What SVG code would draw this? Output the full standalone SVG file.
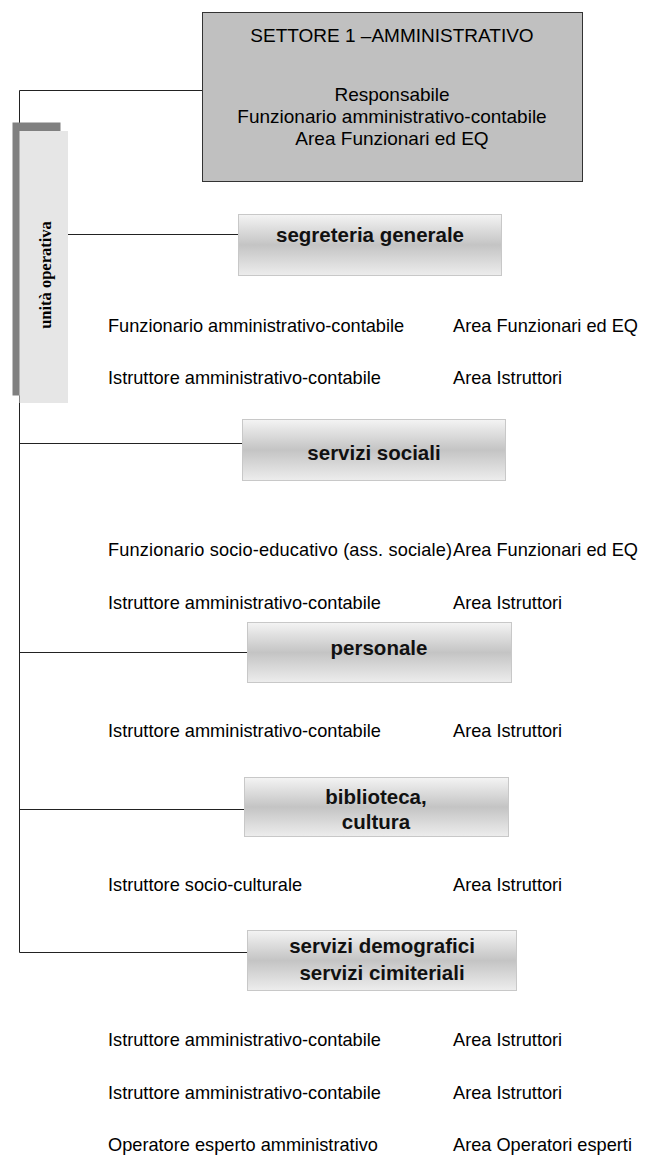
<svg xmlns="http://www.w3.org/2000/svg" width="645" height="1160" viewBox="0 0 645 1160">
<defs>
<linearGradient id="g" x1="0" y1="0" x2="0" y2="1">
<stop offset="0" stop-color="#f4f4f4"/>
<stop offset="0.5" stop-color="#c4c4c4"/>
<stop offset="1" stop-color="#ededed"/>
</linearGradient>
</defs>
<style>
text{font-family:"Liberation Sans",Arial,sans-serif;fill:#000}
.t{font-size:19px;text-anchor:middle}
.b{font-size:20.5px;font-weight:bold;text-anchor:middle;fill:#111}
.r{font-size:18.2px}
.box{fill:url(#g);stroke:#c8c8c8;stroke-width:1}
.ln{stroke:#222;stroke-width:1;fill:none}
</style>
<g id="connectors">
<polyline class="ln" points="202,90.5 19.5,90.5 19.5,952.5"/>
<line class="ln" x1="68" y1="234.5" x2="238" y2="234.5"/>
<line class="ln" x1="19.5" y1="443.5" x2="242" y2="443.5"/>
<line class="ln" x1="19.5" y1="652.5" x2="247" y2="652.5"/>
<line class="ln" x1="19.5" y1="809.5" x2="244" y2="809.5"/>
<line class="ln" x1="19.5" y1="952.5" x2="247" y2="952.5"/>
</g>
<g id="settore">
<rect x="202.5" y="12.5" width="380" height="169" fill="#c0c0c0" stroke="#333" stroke-width="1"/>
<text class="t" x="392" y="42">SETTORE 1 –AMMINISTRATIVO</text>
<text class="t" x="392" y="101">Responsabile</text>
<text class="t" x="392" y="123">Funzionario amministrativo-contabile</text>
<text class="t" x="392" y="145">Area Funzionari ed EQ</text>
</g>
<g id="unita-operativa">
<rect x="12.5" y="122.5" width="48" height="273" fill="#808080"/>
<rect x="19.5" y="131" width="48.5" height="272" fill="#e6e6e6"/>
<text transform="translate(51,275) rotate(-90)" text-anchor="middle" style="font-family:'Liberation Serif','Times New Roman',serif;font-weight:bold;font-size:16.5px">unità operativa</text>
</g>
<g id="segreteria">
<rect class="box" x="238.5" y="214.5" width="263" height="61"/>
<text class="b" x="370" y="242">segreteria generale</text>
<text class="r" x="108" y="332">Funzionario amministrativo-contabile</text>
<text class="r" x="453" y="332">Area Funzionari ed EQ</text>
<text class="r" x="108" y="384">Istruttore amministrativo-contabile</text>
<text class="r" x="453" y="384">Area Istruttori</text>
</g>
<g id="servizi-sociali">
<rect class="box" x="242.5" y="419.5" width="263" height="61"/>
<text class="b" x="374" y="460">servizi sociali</text>
<text class="r" x="108" y="556" textLength="344" lengthAdjust="spacing">Funzionario socio-educativo (ass. sociale)</text>
<text class="r" x="453" y="556">Area Funzionari ed EQ</text>
<text class="r" x="108" y="609">Istruttore amministrativo-contabile</text>
<text class="r" x="453" y="609">Area Istruttori</text>
</g>
<g id="personale">
<rect class="box" x="247.5" y="622.5" width="264" height="60"/>
<text class="b" x="379" y="655">personale</text>
<text class="r" x="108" y="737">Istruttore amministrativo-contabile</text>
<text class="r" x="453" y="737">Area Istruttori</text>
</g>
<g id="biblioteca">
<rect class="box" x="244.5" y="777.5" width="264" height="59"/>
<text class="b" x="376" y="804">biblioteca,</text>
<text class="b" x="376" y="829">cultura</text>
<text class="r" x="108" y="891">Istruttore socio-culturale</text>
<text class="r" x="453" y="891">Area Istruttori</text>
</g>
<g id="demografici">
<rect class="box" x="247.5" y="930.5" width="269" height="60"/>
<text class="b" x="382" y="953">servizi demografici</text>
<text class="b" x="382" y="980">servizi cimiteriali</text>
<text class="r" x="108" y="1046">Istruttore amministrativo-contabile</text>
<text class="r" x="453" y="1046">Area Istruttori</text>
<text class="r" x="108" y="1099">Istruttore amministrativo-contabile</text>
<text class="r" x="453" y="1099">Area Istruttori</text>
<text class="r" x="108" y="1151">Operatore esperto amministrativo</text>
<text class="r" x="453" y="1151">Area Operatori esperti</text>
</g>
</svg>
